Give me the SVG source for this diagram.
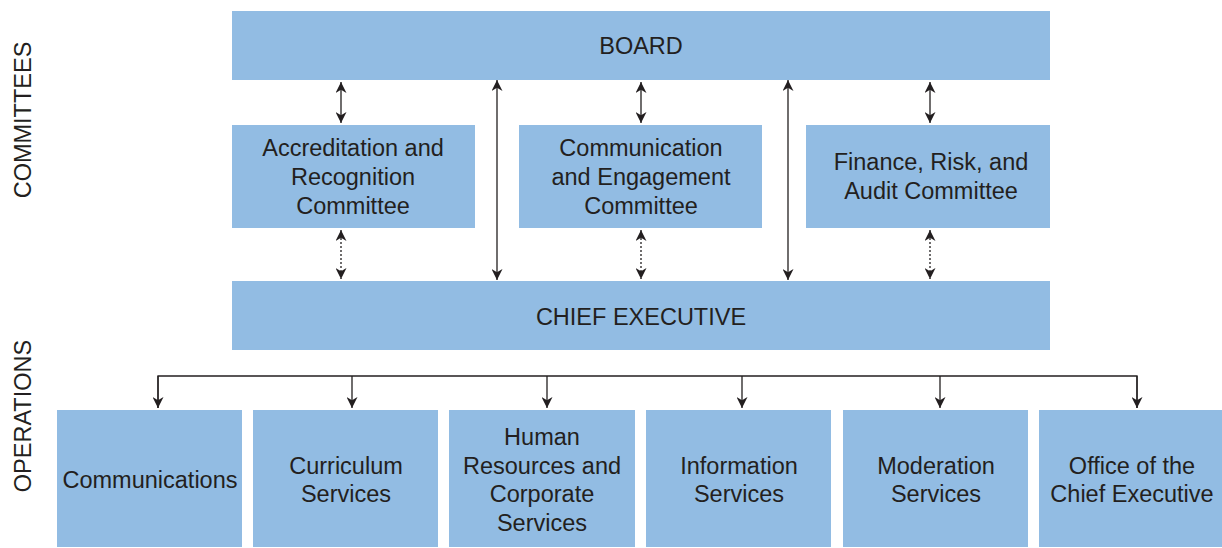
<svg xmlns="http://www.w3.org/2000/svg" width="1222" height="548" viewBox="0 0 1222 548">
<style>
.box{fill:#92bce3}
text{font-family:"Liberation Sans",Arial,sans-serif;font-size:23.5px;fill:#231f20;text-anchor:middle}
.ln{stroke:#231f20;stroke-width:1.3;fill:none}
.dot{stroke-dasharray:2 2}
</style>
<defs>
<marker id="ah" viewBox="0 0 10 10" refX="10" refY="5" markerWidth="11" markerHeight="11" markerUnits="userSpaceOnUse" orient="auto-start-reverse">
<path d="M0,0 L10,5 L0,10 L3,5 z" fill="#231f20"/>
</marker>
</defs>
<rect width="1222" height="548" fill="#fff"/>
<text transform="translate(31,120) rotate(-90)">COMMITTEES</text>
<text transform="translate(31,416) rotate(-90)">OPERATIONS</text>
<g id="board"><rect class="box" x="232" y="11" width="818" height="69"/><text x="641" y="54">BOARD</text></g>
<g id="accreditation"><rect class="box" x="232" y="125" width="243" height="103"/><text x="353" y="156">Accreditation and</text><text x="353" y="185">Recognition</text><text x="353" y="214">Committee</text></g>
<g id="communication"><rect class="box" x="519" y="125" width="243" height="103"/><text x="641" y="156">Communication</text><text x="641" y="185">and Engagement</text><text x="641" y="214">Committee</text></g>
<g id="finance"><rect class="box" x="806" y="125" width="244" height="103"/><text x="931" y="170">Finance, Risk, and</text><text x="931" y="199">Audit Committee</text></g>
<g id="chief"><rect class="box" x="232" y="281" width="818" height="69"/><text x="641" y="325">CHIEF EXECUTIVE</text></g>
<g id="communications"><rect class="box" x="57" y="410" width="185" height="137"/><text x="150" y="488">Communications</text></g>
<g id="curriculum"><rect class="box" x="253" y="410" width="185" height="137"/><text x="346" y="474">Curriculum</text><text x="346" y="502">Services</text></g>
<g id="hr"><rect class="box" x="449" y="410" width="186" height="137"/><text x="542" y="445">Human</text><text x="542" y="474">Resources and</text><text x="542" y="502">Corporate</text><text x="542" y="531">Services</text></g>
<g id="information"><rect class="box" x="646" y="410" width="185" height="137"/><text x="739" y="474">Information</text><text x="739" y="502">Services</text></g>
<g id="moderation"><rect class="box" x="843" y="410" width="185" height="137"/><text x="936" y="474">Moderation</text><text x="936" y="502">Services</text></g>
<g id="office"><rect class="box" x="1039" y="410" width="183" height="137"/><text x="1132" y="474">Office of the</text><text x="1132" y="502">Chief Executive</text></g>
<g id="connectors">
<line class="ln" x1="341" y1="82" x2="341" y2="123" marker-start="url(#ah)" marker-end="url(#ah)"/>
<line class="ln" x1="641" y1="82" x2="641" y2="123" marker-start="url(#ah)" marker-end="url(#ah)"/>
<line class="ln" x1="930" y1="82" x2="930" y2="123" marker-start="url(#ah)" marker-end="url(#ah)"/>
<line class="ln dot" x1="341" y1="230" x2="341" y2="279" marker-start="url(#ah)" marker-end="url(#ah)"/>
<line class="ln dot" x1="641" y1="230" x2="641" y2="279" marker-start="url(#ah)" marker-end="url(#ah)"/>
<line class="ln dot" x1="930" y1="230" x2="930" y2="279" marker-start="url(#ah)" marker-end="url(#ah)"/>
<line class="ln" x1="497" y1="80" x2="497" y2="280" marker-start="url(#ah)" marker-end="url(#ah)"/>
<line class="ln" x1="788" y1="80" x2="788" y2="280" marker-start="url(#ah)" marker-end="url(#ah)"/>
<path class="ln" d="M158,408 V376 H1137 V408"/>
<line class="ln" x1="158" y1="376" x2="158" y2="408" marker-end="url(#ah)"/>
<line class="ln" x1="352" y1="376" x2="352" y2="408" marker-end="url(#ah)"/>
<line class="ln" x1="547" y1="376" x2="547" y2="408" marker-end="url(#ah)"/>
<line class="ln" x1="742" y1="376" x2="742" y2="408" marker-end="url(#ah)"/>
<line class="ln" x1="940" y1="376" x2="940" y2="408" marker-end="url(#ah)"/>
<line class="ln" x1="1137" y1="376" x2="1137" y2="408" marker-end="url(#ah)"/>
</g>
</svg>
